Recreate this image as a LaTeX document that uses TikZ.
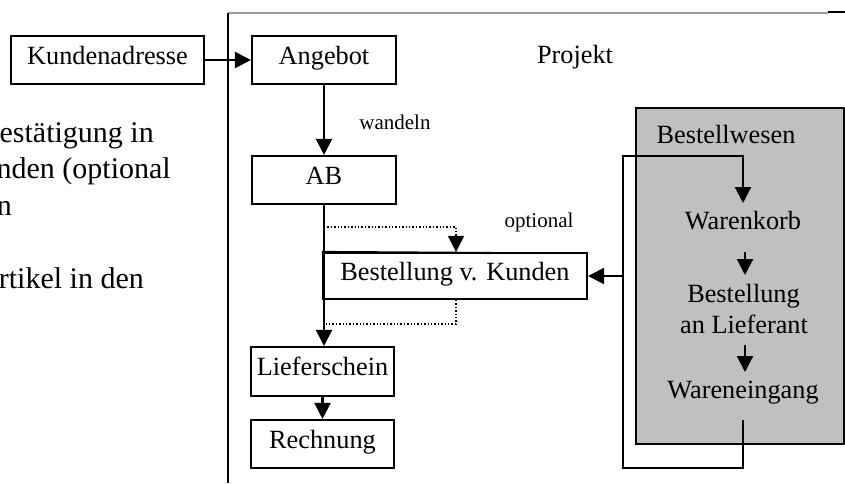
\documentclass[tikz,border=0pt]{standalone}
\usepackage{fontspec}
\setmainfont{Liberation Serif}
\usetikzlibrary{arrows.meta}
\definecolor{boxgray}{HTML}{C0C0C0}
\definecolor{rulegray}{HTML}{9A9A9A}
\begin{document}
\begin{tikzpicture}[x=1pt,y=-1pt,
  every node/.style={font=\fontsize{26.3}{31}\selectfont, inner sep=0pt},
  big/.style={font=\fontsize{30}{36}\selectfont},
  box/.style={draw, line width=2.1pt, text height=17pt, text depth=9pt},
  ln/.style={line width=2.1pt},
  tip/.style={-{Triangle[width=16pt,length=16pt]}},
  arr/.style={line width=2.1pt, tip},
  dots/.style={dotted, line width=1.4pt},
  small/.style={font=\fontsize{21}{25}\selectfont}]
\useasboundingbox (0,0) rectangle (845,483);
\clip (0,0) rectangle (845,483);

% clipped text at the left edge
\node[anchor=base east, big] (t1) at (154,142) {estätigung in};
\node[anchor=base east, big] (t2) at (171,178) {nden (optional};
\node[anchor=base east, big] (t3) at (12,215) {n};
\node[anchor=base east, big] (t4) at (144,288) {rtikel in den};

% frame lines
\coordinate (f0) at (228,13);
\coordinate (f1) at (828,13);
\coordinate (f2) at (828,12);
\coordinate (f3) at (845,12);
\coordinate (f4) at (228,483);
\draw[rulegray, line width=1.2pt] (f0) -- (f1);
\draw[line width=2.5pt] (f2) -- (f3);
\draw[line width=2.2pt] (f0) -- (f4);

% boxes
\node[box, minimum width=193pt, minimum height=48pt] (KA) at (107.5,60) {Kundenadresse};
\node[box, minimum width=144pt, minimum height=48pt] (AG) at (324,60) {Angebot};
\node[box, minimum width=144pt, minimum height=48pt] (AB) at (324,180) {AB};
\node[box, minimum width=264pt, minimum height=46pt] (BK) at (455,276) {Bestellung v. Kunden};
\node[box, minimum width=143pt, minimum height=49pt] (LS) at (322.5,371.5) {Lieferschein};
\node[box, minimum width=143pt, minimum height=48pt] (RE) at (322.5,444) {Rechnung};

% grey block
\node[draw, fill=boxgray, line width=2.1pt, minimum width=208pt, minimum height=336pt] (BW) at (740,276) {};

% labels
\node[anchor=base] (PR) at (575,63) {Projekt};
\node[anchor=base, small] (WD) at (395,129) {wandeln};
\node[anchor=base, small] (OP) at (539,227) {optional};
\node[anchor=base] (BWt) at (726,143) {Bestellwesen};
\node[anchor=base] (WK) at (743,229) {Warenkorb};
\node[anchor=base] (BL1) at (743.5,302) {Bestellung};
\node[anchor=base] (BL2) at (744,333) {an Lieferant};
\node[anchor=base] (WE) at (743,398) {Wareneingang};

% main flow
\draw[arr] (KA.east) -- (AG.west);
\draw[arr] (AG.south) -- (AB.north);
\draw[arr] (AB.south) -- (AB.south |- LS.north);
\draw[arr] (LS.south) -- (RE.north);
\coordinate (bt) at (492,253);
\draw[ln] (BK.north west) -- (bt);

% optional dotted path
\coordinate (d1) at (324,227);
\coordinate (d2) at (456,227);
\coordinate (d3) at (456,324);
\coordinate (d4) at (324,324);
\draw[dots, tip] (d1) -- (d2) -- (d2 |- BK.north);
\draw[dots] (d2 |- BK.south) -- (d3) -- (d4);

% loop inside Bestellwesen
\coordinate (l0) at (743,420);
\coordinate (l1) at (743,468);
\coordinate (l2) at (623,468);
\coordinate (l3) at (623,156);
\coordinate (l4) at (743,156);
\coordinate (l5) at (743,203);
\draw[arr] (l0) -- (l1) -- (l2) -- (l3) -- (l4) -- (l5);
\draw[arr] (BK.east -| l2) -- (BK.east);

% small arrows
\coordinate (s1) at (745,252);
\coordinate (s2) at (745,275);
\coordinate (s3) at (745,345);
\coordinate (s4) at (745,372);
\draw[arr] (s1) -- (s2);
\draw[arr] (s3) -- (s4);
\end{tikzpicture}
\end{document}
